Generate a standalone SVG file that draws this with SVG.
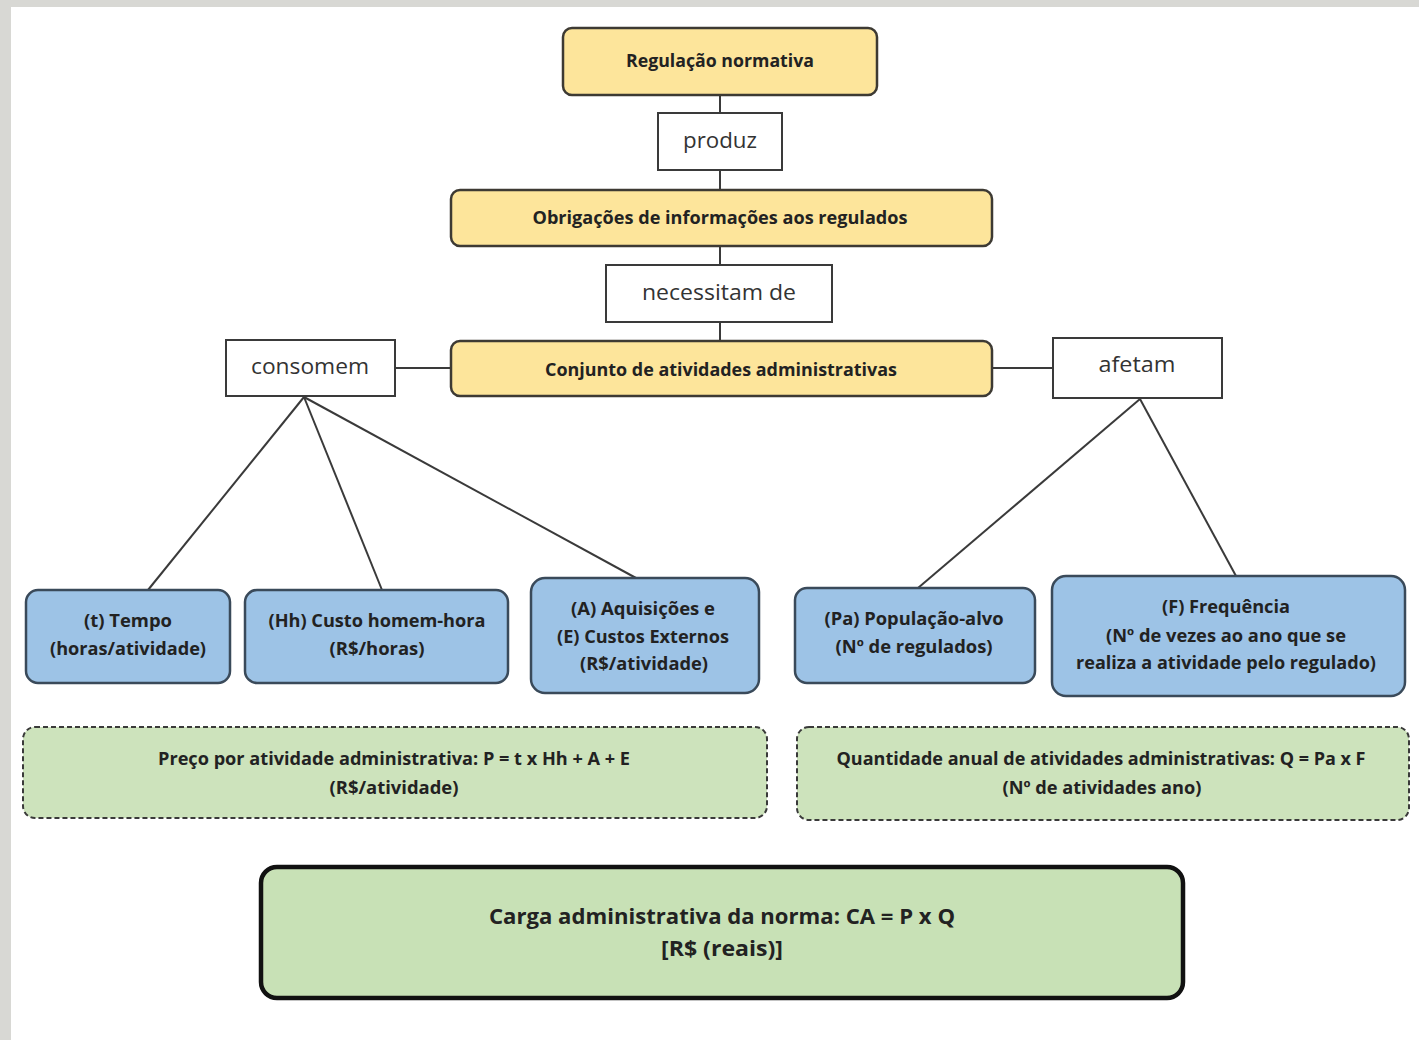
<svg xmlns="http://www.w3.org/2000/svg" width="1419" height="1040" viewBox="0 0 1419 1040">
<defs>
<style>
.bg{fill:#ffffff}
.yel{fill:#fde59b;stroke:#3d3a33;stroke-width:2.5}
.lbl{fill:#ffffff;stroke:#3a3a3a;stroke-width:2}
.blue{fill:#9dc3e6;stroke:#3a4a5a;stroke-width:2.5}
.grn{fill:#cde3bc;stroke:#3a3a3a;stroke-width:2;stroke-dasharray:5 3}
.big{fill:#c8e1b6;stroke:#111;stroke-width:4.5}
.b{font-family:"Open Sans","Liberation Sans",sans-serif;font-weight:bold;fill:#222;text-anchor:middle;dominant-baseline:central}
.r{font-family:"Open Sans","Liberation Sans",sans-serif;fill:#333;text-anchor:middle;dominant-baseline:central;font-size:21px}
.con{stroke:#3a3a3a;stroke-width:2;fill:none}
</style>
</defs>
<rect x="0" y="0" width="1419" height="1040" fill="#d8d8d4"/>
<rect x="11" y="7" width="1408" height="1033" class="bg"/>
<g id="connectors">
<line class="con" x1="720" y1="95" x2="720" y2="113"/>
<line class="con" x1="720" y1="170" x2="720" y2="190"/>
<line class="con" x1="720" y1="246" x2="720" y2="265"/>
<line class="con" x1="720" y1="322" x2="720" y2="341"/>
<line class="con" x1="395" y1="368" x2="451" y2="368"/>
<line class="con" x1="992" y1="368" x2="1053" y2="368"/>
<line class="con" x1="304" y1="397" x2="148" y2="590"/>
<line class="con" x1="304" y1="397" x2="382" y2="590"/>
<line class="con" x1="304" y1="397" x2="636" y2="578"/>
<line class="con" x1="1140" y1="399" x2="918" y2="588"/>
<line class="con" x1="1140" y1="399" x2="1236" y2="576"/>
</g>
<g id="regulacao"><rect class="yel" x="563" y="28" width="314" height="67" rx="9"/><text class="b" x="720" y="60" font-size="17" textLength="188" lengthAdjust="spacingAndGlyphs">Regulação normativa</text></g>
<g id="produz"><rect class="lbl" x="658" y="113" width="124" height="57"/><text class="r" x="720" y="140" textLength="74" lengthAdjust="spacingAndGlyphs">produz</text></g>
<g id="obrigacoes"><rect class="yel" x="451" y="190" width="541" height="56" rx="9"/><text class="b" x="720" y="217" font-size="17" textLength="375" lengthAdjust="spacingAndGlyphs">Obrigações de informações aos regulados</text></g>
<g id="necessitam"><rect class="lbl" x="606" y="265" width="226" height="57"/><text class="r" x="719" y="292" textLength="154" lengthAdjust="spacingAndGlyphs">necessitam de</text></g>
<g id="conjunto"><rect class="yel" x="451" y="341" width="541" height="55" rx="9"/><text class="b" x="721" y="369" font-size="17" textLength="352" lengthAdjust="spacingAndGlyphs">Conjunto de atividades administrativas</text></g>
<g id="consomem"><rect class="lbl" x="226" y="340" width="169" height="56"/><text class="r" x="310" y="366" textLength="118" lengthAdjust="spacingAndGlyphs">consomem</text></g>
<g id="afetam"><rect class="lbl" x="1053" y="338" width="169" height="60"/><text class="r" x="1137" y="364" textLength="77" lengthAdjust="spacingAndGlyphs">afetam</text></g>
<g id="tempo"><rect class="blue" x="26" y="590" width="204" height="93" rx="12"/>
<text class="b" x="128" y="620" font-size="17" textLength="88" lengthAdjust="spacingAndGlyphs">(t) Tempo</text>
<text class="b" x="128" y="648" font-size="17" textLength="156" lengthAdjust="spacingAndGlyphs">(horas/atividade)</text></g>
<g id="homemhora"><rect class="blue" x="245" y="590" width="263" height="93" rx="12"/>
<text class="b" x="377" y="620" font-size="17" textLength="217" lengthAdjust="spacingAndGlyphs">(Hh) Custo homem-hora</text>
<text class="b" x="377" y="648" font-size="17" textLength="95" lengthAdjust="spacingAndGlyphs">(R$/horas)</text></g>
<g id="aquisicoes"><rect class="blue" x="531" y="578" width="228" height="115" rx="14"/>
<text class="b" x="643" y="608" font-size="17" textLength="144" lengthAdjust="spacingAndGlyphs">(A) Aquisições e</text>
<text class="b" x="643" y="636" font-size="17" textLength="172" lengthAdjust="spacingAndGlyphs">(E) Custos Externos</text>
<text class="b" x="644" y="663" font-size="17" textLength="128" lengthAdjust="spacingAndGlyphs">(R$/atividade)</text></g>
<g id="populacao"><rect class="blue" x="795" y="588" width="240" height="95" rx="12"/>
<text class="b" x="914" y="618" font-size="17" textLength="179" lengthAdjust="spacingAndGlyphs">(Pa) População-alvo</text>
<text class="b" x="914" y="646" font-size="17" textLength="157" lengthAdjust="spacingAndGlyphs">(Nº de regulados)</text></g>
<g id="frequencia"><rect class="blue" x="1052" y="576" width="353" height="120" rx="14"/>
<text class="b" x="1226" y="606" font-size="17" textLength="128" lengthAdjust="spacingAndGlyphs">(F) Frequência</text>
<text class="b" x="1226" y="635" font-size="17" textLength="240" lengthAdjust="spacingAndGlyphs">(Nº de vezes ao ano que se</text>
<text class="b" x="1226" y="662" font-size="17" textLength="300" lengthAdjust="spacingAndGlyphs">realiza a atividade pelo regulado)</text></g>
<g id="preco"><rect class="grn" x="23" y="727" width="744" height="91" rx="12"/>
<text class="b" x="394" y="758" font-size="17" textLength="472" lengthAdjust="spacingAndGlyphs">Preço por atividade administrativa: P = t x Hh + A + E</text>
<text class="b" x="394" y="787" font-size="17" textLength="129" lengthAdjust="spacingAndGlyphs">(R$/atividade)</text></g>
<g id="quantidade"><rect class="grn" x="797" y="727" width="612" height="93" rx="12"/>
<text class="b" x="1101" y="758" font-size="17" textLength="529" lengthAdjust="spacingAndGlyphs">Quantidade anual de atividades administrativas: Q = Pa x F</text>
<text class="b" x="1102" y="787" font-size="17" textLength="199" lengthAdjust="spacingAndGlyphs">(Nº de atividades ano)</text></g>
<g id="carga"><rect class="big" x="261" y="867" width="922" height="131" rx="16"/>
<text class="b" x="722" y="916" font-size="21" textLength="466" lengthAdjust="spacingAndGlyphs">Carga administrativa da norma: CA = P x Q</text>
<text class="b" x="722" y="948" font-size="21" textLength="122" lengthAdjust="spacingAndGlyphs">[R$ (reais)]</text></g>
</svg>
